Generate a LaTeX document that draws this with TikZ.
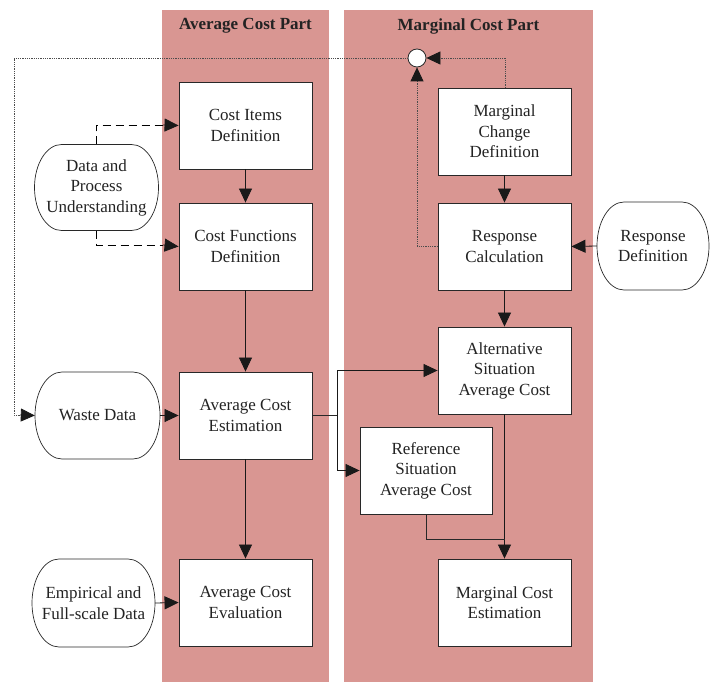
\documentclass[tikz,border=0pt]{standalone}
\usepackage{fontspec}
\setmainfont{Liberation Serif}
\usetikzlibrary{arrows.meta}
\definecolor{partpink}{RGB}{217,150,146}
\definecolor{linegray}{RGB}{40,40,40}
\definecolor{textgray}{RGB}{35,35,35}
\tikzset{
  stepbox/.style={draw=linegray,line width=0.9pt,fill=white,minimum width=133pt,minimum height=87pt,inner sep=0pt,align=center,text=textgray,font=\fontsize{17}{20.5}\selectfont},
  ovalbox/.style={inner sep=0pt,align=center,text=textgray,font=\fontsize{17}{20.5}\selectfont},
  ovalline/.style={line width=0.7pt,draw=linegray,fill=white},
  arr/.style={-{Triangle[length=14pt,width=13pt]},line width=0.8pt,draw=black!90},
  flow/.style={line width=0.8pt,draw=linegray},
  dashflow/.style={line width=0.8pt,dash pattern=on 8pt off 5pt},
  dotflow/.style={line width=0.8pt,densely dotted,draw=black!70},
  title/.style={text=textgray,font=\bfseries\fontsize{17}{20}\selectfont}
}
% #1 cx, #2 cy, #3 half width, #4 half height
\newcommand{\ovalpath}[4]{%
  \begin{scope}[shift={(#1,#2)}]
  \pgfmathsetmacro\ovR{#3-27}
  \pgfmathsetmacro\ovK{#4*0.552}
  \draw[ovalline] (-\ovR,-#4) -- (\ovR,-#4)
    .. controls (\ovR+14.9,-#4) and (#3,-\ovK) .. (#3,0)
    .. controls (#3,\ovK) and (\ovR+14.9,#4) .. (\ovR,#4)
    -- (-\ovR,#4)
    .. controls (-\ovR-14.9,#4) and (-#3,\ovK) .. (-#3,0)
    .. controls (-#3,-\ovK) and (-\ovR-14.9,-#4) .. (-\ovR,-#4) -- cycle;
  \end{scope}}
\begin{document}
\begin{tikzpicture}[x=1pt,y=-1pt]
\useasboundingbox (0,0) rectangle (710,682);
% columns
\fill[partpink] (162,10) rectangle (329,682);
\fill[partpink] (344,10) rectangle (593,682);
\node[title] (t1) at (245.5,26) {Average Cost Part};
\node[title] (t2) at (468.5,26) {Marginal Cost Part};
% boxes
\node[stepbox] (ci) at (245.5,125.5) {Cost Items\\Definition};
\node[stepbox] (cf) at (245.5,246.5) {Cost Functions\\Definition};
\node[stepbox] (ae) at (245.5,415.5) {Average Cost\\Estimation};
\node[stepbox] (av) at (245.5,602.5) {Average Cost\\Evaluation};
\node[stepbox] (mc) at (504.5,131.5) {Marginal\\Change\\Definition};
\node[stepbox] (rc) at (504.5,246.5) {Response\\Calculation};
\node[stepbox] (al) at (504.5,370.5) {Alternative\\Situation\\Average Cost};
\node[stepbox,minimum width=132pt] (rf) at (426,470.5) {Reference\\Situation\\Average Cost};
\node[stepbox] (me) at (504.5,602.5) {Marginal Cost\\Estimation};
% ovals
\ovalpath{96.5}{187.5}{62}{43}
\node[ovalbox,minimum width=124pt,minimum height=86pt] (dp) at (96.5,187.5) {Data and\\Process\\Understanding};
\ovalpath{97.5}{415.5}{62.5}{43.5}
\node[ovalbox,minimum width=125pt,minimum height=87pt] (wd) at (97.5,415.5) {Waste Data};
\ovalpath{93.5}{603}{61.5}{44}
\node[ovalbox,minimum width=123pt,minimum height=88pt] (em) at (93.5,603) {Empirical and\\Full-scale Data};
\ovalpath{653}{246}{56}{44}
\node[ovalbox,minimum width=112pt,minimum height=88pt] (rd) at (653,246) {Response\\Definition};
% circle
\node[draw=linegray,line width=0.8pt,fill=white,circle,minimum size=18pt,inner sep=0pt] (cc) at (417,58) {};
% coordinates
\coordinate (dpTop) at (96,144.5);
\coordinate (dpBot) at (96,230.5);
\coordinate (mcTop) at (505,88);
\coordinate (rcLeft) at (438,246);
\coordinate (aeRight) at (312,415);
\coordinate (split) at (337,415);
\coordinate (rfBot) at (426,514);
\coordinate (join) at (505,539);
% dashed
\draw[dashflow] (dpTop) -- (96,125) -- (163,125);
\draw[arr] (163,125) -- (ci.west);
\draw[dashflow] (dpBot) -- (96,245) -- (163,245);
\draw[arr] (163,245) -- (cf.west);
% solid vertical
\draw[arr] (ci.south) -- (cf.north);
\draw[arr] (cf.south) -- (ae.north);
\draw[arr] (ae.south) -- (av.north);
\draw[arr] (wd.east) -- (ae.west);
\draw[arr] (em.east) -- (av.west);
\draw[arr] (rd.west) -- (rc.east);
\draw[arr] (mc.south) -- (rc.north);
\draw[arr] (rc.south) -- (al.north);
\draw[arr] (al.south) -- (me.north);
% split from estimation
\draw[flow] (aeRight) -- (split);
\draw[arr] (split) -- (337,370.5) -- (al.west);
\draw[arr] (split) -- (337,470.5) -- (rf.west);
\draw[flow] (rfBot) -- (426,539) -- (join);
% dotted feedback
\draw[dotflow] (mcTop) -- (505,58) -- (430,58);
\draw[arr] (430,58) -- (cc.east);
\draw[dotflow] (rcLeft) -- (417,246) -- (417,80);
\draw[arr] (417,80) -- (cc.south);
\draw[dotflow] (cc.west) -- (14,58) -- (14,415) -- (20,415);
\draw[arr] (20,415) -- (wd.west);
\end{tikzpicture}
\end{document}
